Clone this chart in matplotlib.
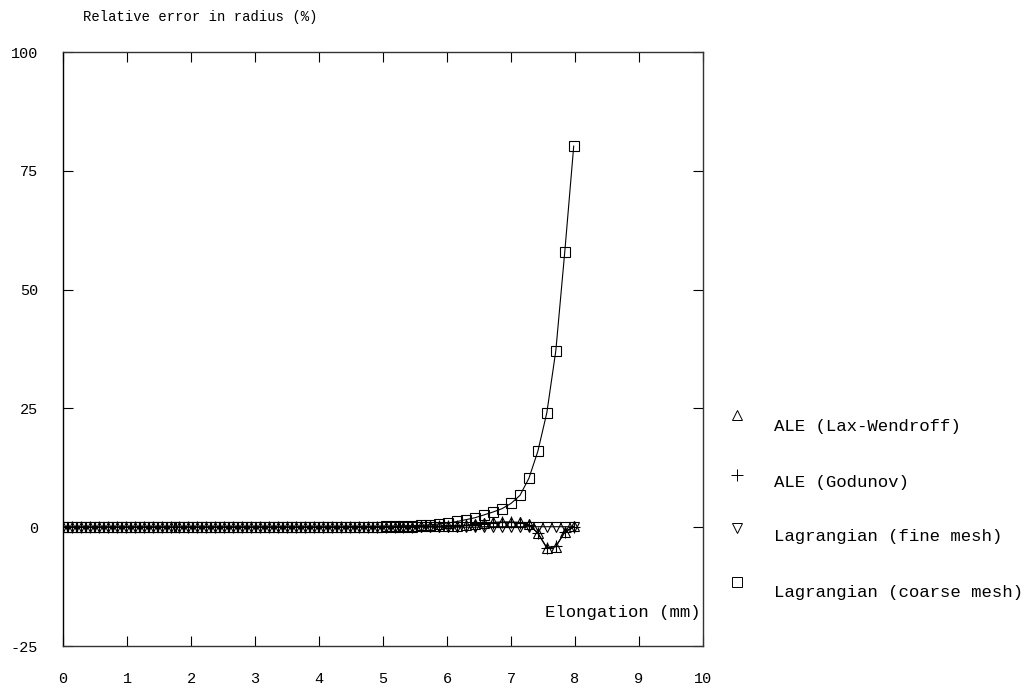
import numpy as np
import matplotlib
matplotlib.use("Agg")
import matplotlib.pyplot as plt
from matplotlib.lines import Line2D

plt.rcParams['font.family'] = ['Liberation Mono', 'DejaVu Sans Mono']
plt.rcParams['axes.unicode_minus'] = False

# Sampling grid of the elongation (mm), 58 stations
elongation = np.arange(58) * 0.14

# Relative error in radius (%) for each scheme
ale_lax_wendroff = [
    0.0, 0.0, 0.0, 0.0, 0.0, 0.0, 0.0, 0.0, 0.0, 0.0,
    0.0, 0.0, 0.0, 0.0, 0.0, 0.0, 0.0, 0.0, 0.0, 0.0,
    0.0, 0.0, 0.0, 0.0, 0.0, 0.0, 0.0, 0.0, 0.0, 0.0,
    0.0, 0.0, 0.0, 0.0, 0.0, 0.0, 0.1, 0.1, 0.1, 0.1,
    0.2, 0.2, 0.2, 0.3, 0.3, 0.4, 0.6, 0.8, 1.0, 1.1,
    1.1, 1.0, 0.6, -1.3, -4.4, -4.1, -1.0, 0.2,
]
ale_godunov = [
    0.0, 0.0, 0.0, 0.0, 0.0, 0.0, 0.0, 0.0, 0.0, 0.0,
    0.0, 0.0, 0.0, 0.0, 0.0, 0.0, 0.0, 0.0, 0.0, 0.0,
    0.0, 0.0, 0.0, 0.0, 0.0, 0.0, 0.0, 0.0, 0.0, 0.0,
    0.0, 0.0, 0.0, 0.0, 0.0, 0.0, 0.1, 0.1, 0.1, 0.1,
    0.2, 0.2, 0.2, 0.3, 0.3, 0.4, 0.5, 0.7, 0.9, 1.0,
    1.0, 0.9, 0.5, -1.2, -4.3, -4.0, -1.1, 0.1,
]
lagrangian_fine = [
    0.0, 0.0, 0.0, 0.0, 0.0, 0.0, 0.0, 0.0, 0.0, 0.0,
    0.0, 0.0, 0.0, 0.0, 0.0, 0.0, 0.0, 0.0, 0.0, 0.0,
    0.0, 0.0, 0.0, 0.0, 0.0, 0.0, 0.0, 0.0, 0.0, 0.0,
    0.0, 0.0, 0.0, 0.0, 0.0, 0.0, 0.0, 0.0, 0.0, 0.0,
    0.0, 0.0, 0.0, 0.0, 0.0, 0.0, 0.0, 0.1, 0.1, 0.1,
    0.1, 0.1, 0.1, 0.1, 0.1, 0.1, 0.1, 0.1,
]
lagrangian_coarse = [
    0.0, 0.0, 0.0, 0.0, 0.0, 0.0, 0.0, 0.0, 0.0, 0.0,
    0.0, 0.0, 0.0, 0.0, 0.0, 0.0, 0.0, 0.0, 0.0, 0.0,
    0.0, 0.0, 0.0, 0.0, 0.0, 0.0, 0.0, 0.0, 0.0, 0.0,
    0.0, 0.0, 0.1, 0.1, 0.1, 0.1, 0.2, 0.2, 0.3, 0.3,
    0.4, 0.5, 0.7, 0.9, 1.2, 1.6, 2.0, 2.6, 3.2, 3.9,
    5.0, 6.7, 10.3, 16.0, 24.1, 37.1, 57.9, 80.2,
]

x_ticks = [0, 1, 2, 3, 4, 5, 6, 7, 8, 9, 10]
y_ticks = [-25, 0, 25, 50, 75, 100]

series = [
    ("ALE (Lax-Wendroff)", ale_lax_wendroff, "^"),
    ("ALE (Godunov)", ale_godunov, "+"),
    ("Lagrangian (fine mesh)", lagrangian_fine, "v"),
    ("Lagrangian (coarse mesh)", lagrangian_coarse, "s"),
]

fig = plt.figure(figsize=(10.28, 6.90), dpi=100)
W, H = 1028, 690
left, right, top, bottom = 63, 703, 52, 646
ax = fig.add_axes([left / W, 1 - bottom / H, (right - left) / W, (bottom - top) / H])

for label, values, marker in series:
    ax.plot(elongation, values, color="black", linewidth=0.8,
            marker=marker, markersize=7 if marker != "+" else 8,
            markerfacecolor="none", markeredgecolor="black",
            markeredgewidth=0.8)

ax.set_xlim(0, 10)
ax.set_ylim(-25, 100)
ax.set_xticks(x_ticks)
ax.set_yticks(y_ticks)
ax.tick_params(direction="in", length=7, width=0.8, top=True, right=True,
               labelsize=11, pad=18, colors="black")
ax.tick_params(axis="x", pad=19)
for s in ax.spines.values():
    s.set_linewidth(1.0)
    s.set_color("#333333")
ax.spines["left"].set_color("black")

ax.text(0.996, 0.057, "Elongation (mm)", transform=ax.transAxes,
        ha="right", va="center", fontsize=12.4)
fig.text(83 / W, 1 - 17 / H, "Relative error in radius (%)",
         ha="left", va="center", fontsize=10)

# Key to the symbols, drawn beside the plotting area
marker_y = [415, 475, 528, 582]
text_y = [426, 482, 537, 592]
for (label, _, marker), my, ty in zip(series, marker_y, text_y):
    fig.add_artist(Line2D([737 / W], [1 - my / H], transform=fig.transFigure,
                          marker=marker, markersize=7 if marker != "+" else 9,
                          markerfacecolor="none", markeredgecolor="black",
                          markeredgewidth=0.7, linestyle="none"))
    fig.text(774 / W, 1 - ty / H, label, ha="left", va="center", fontsize=12.55)

fig.savefig("out.png", dpi=100)
